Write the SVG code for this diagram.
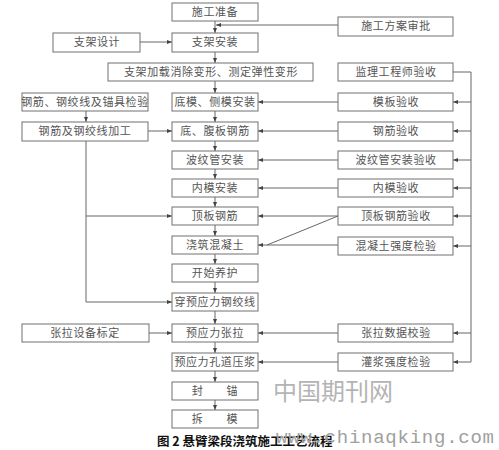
<svg xmlns="http://www.w3.org/2000/svg" width="499" height="450" viewBox="0 0 499 450">
<style>
.b{fill:#fff;stroke:#707070;stroke-width:1}
.t{font-family:"Noto Sans CJK SC","Noto Sans",sans-serif;font-size:11px;fill:#555;text-anchor:middle;letter-spacing:0.6px}
.c{fill:none;stroke:#666;stroke-width:1}
.a{marker-end:url(#ar)}
</style>
<defs>
<marker id="ar" markerWidth="5" markerHeight="4" refX="5" refY="2" orient="auto" markerUnits="userSpaceOnUse">
<path d="M0,0 L5,2 L0,4 z" fill="#444"/>
</marker>
</defs>
<rect width="499" height="450" fill="#fff"/>
<g id="connectors">
<line class="c a" x1="215" y1="21" x2="215" y2="33"/>
<line class="c a" x1="338" y1="25" x2="216" y2="25"/>
<line class="c a" x1="140" y1="42" x2="172" y2="42"/>
<line class="c a" x1="215" y1="52" x2="215" y2="63"/>
<line class="c a" x1="215" y1="81" x2="215" y2="93"/>
<line class="c a" x1="215" y1="111" x2="215" y2="122"/>
<line class="c a" x1="215" y1="141" x2="215" y2="151"/>
<line class="c a" x1="215" y1="169" x2="215" y2="179"/>
<line class="c a" x1="215" y1="197" x2="215" y2="207"/>
<line class="c a" x1="215" y1="225" x2="215" y2="236"/>
<line class="c a" x1="215" y1="254" x2="215" y2="264"/>
<line class="c a" x1="215" y1="282" x2="215" y2="293"/>
<line class="c a" x1="215" y1="311" x2="215" y2="324"/>
<line class="c a" x1="215" y1="342" x2="215" y2="353"/>
<line class="c a" x1="215" y1="371" x2="215" y2="382"/>
<line class="c a" x1="215" y1="400" x2="215" y2="410"/>
<line class="c a" x1="86" y1="111" x2="86" y2="122"/>
<line class="c a" x1="148" y1="131" x2="172" y2="131"/>
<polyline class="c a" points="86,141 86,302 172,302"/>
<line class="c a" x1="86" y1="216" x2="172" y2="216"/>
<line class="c a" x1="149" y1="333" x2="172" y2="333"/>
<polyline class="c" points="453,72 471,72 471,362"/>
<line class="c a" x1="471" y1="102" x2="453" y2="102"/>
<line class="c a" x1="471" y1="131" x2="453" y2="131"/>
<line class="c a" x1="471" y1="160" x2="453" y2="160"/>
<line class="c a" x1="471" y1="188" x2="453" y2="188"/>
<line class="c a" x1="471" y1="216" x2="453" y2="216"/>
<line class="c a" x1="471" y1="246" x2="453" y2="246"/>
<line class="c a" x1="471" y1="333" x2="453" y2="333"/>
<line class="c a" x1="471" y1="362" x2="453" y2="362"/>
<line class="c a" x1="338" y1="102" x2="258" y2="102"/>
<line class="c a" x1="338" y1="131" x2="258" y2="131"/>
<line class="c a" x1="338" y1="160" x2="258" y2="160"/>
<line class="c a" x1="338" y1="188" x2="258" y2="188"/>
<line class="c a" x1="338" y1="216" x2="258" y2="216"/>
<line class="c a" x1="338" y1="245" x2="258" y2="245"/>
<line class="c" x1="338" y1="216" x2="267" y2="245"/>
<line class="c a" x1="338" y1="333" x2="258" y2="333"/>
<line class="c a" x1="338" y1="362" x2="258" y2="362"/>
</g>
<g id="n1"><rect class="b" x="172" y="3" width="86" height="18"/><text class="t" x="215" y="16">施工准备</text></g>
<g id="n2"><rect class="b" x="172" y="33" width="86" height="19"/><text class="t" x="215" y="46">支架安装</text></g>
<g id="n3"><rect class="b" x="108" y="63" width="205" height="18"/><text class="t" x="211" y="76">支架加载消除变形、测定弹性变形</text></g>
<g id="n4"><rect class="b" x="172" y="93" width="86" height="18"/><text class="t" x="215" y="106">底模、侧模安装</text></g>
<g id="n5"><rect class="b" x="172" y="122" width="86" height="19"/><text class="t" x="215" y="135">底、腹板钢筋</text></g>
<g id="n6"><rect class="b" x="172" y="151" width="86" height="18"/><text class="t" x="215" y="164">波纹管安装</text></g>
<g id="n7"><rect class="b" x="172" y="179" width="86" height="18"/><text class="t" x="215" y="192">内模安装</text></g>
<g id="n8"><rect class="b" x="172" y="207" width="86" height="18"/><text class="t" x="215" y="220">顶板钢筋</text></g>
<g id="n9"><rect class="b" x="172" y="236" width="86" height="18"/><text class="t" x="215" y="249">浇筑混凝土</text></g>
<g id="n10"><rect class="b" x="172" y="264" width="86" height="18"/><text class="t" x="215" y="277">开始养护</text></g>
<g id="n11"><rect class="b" x="172" y="293" width="86" height="18"/><text class="t" x="215" y="306">穿预应力钢绞线</text></g>
<g id="n12"><rect class="b" x="172" y="324" width="86" height="18"/><text class="t" x="215" y="337">预应力张拉</text></g>
<g id="n13"><rect class="b" x="172" y="353" width="86" height="18"/><text class="t" x="215" y="366">预应力孔道压浆</text></g>
<g id="n14"><rect class="b" x="172" y="382" width="86" height="18"/><text class="t" x="215" y="395">封　　锚</text></g>
<g id="n15"><rect class="b" x="172" y="410" width="86" height="18"/><text class="t" x="215" y="423">拆　　模</text></g>
<g id="l1"><rect class="b" x="53" y="33" width="87" height="19"/><text class="t" x="97" y="46">支架设计</text></g>
<g id="l2"><rect class="b" x="22" y="93" width="126" height="18"/><text class="t" x="85" y="106">钢筋、钢绞线及锚具检验</text></g>
<g id="l3"><rect class="b" x="22" y="122" width="126" height="19"/><text class="t" x="85" y="135">钢筋及钢绞线加工</text></g>
<g id="l4"><rect class="b" x="22" y="324" width="127" height="18"/><text class="t" x="85" y="337">张拉设备标定</text></g>
<g id="r0"><rect class="b" x="338" y="17" width="115" height="19"/><text class="t" x="396" y="30">施工方案审批</text></g>
<g id="r1"><rect class="b" x="338" y="63" width="115" height="18"/><text class="t" x="396" y="76">监理工程师验收</text></g>
<g id="r2"><rect class="b" x="338" y="93" width="115" height="18"/><text class="t" x="396" y="106">模板验收</text></g>
<g id="r3"><rect class="b" x="338" y="122" width="115" height="19"/><text class="t" x="396" y="135">钢筋验收</text></g>
<g id="r4"><rect class="b" x="338" y="151" width="115" height="18"/><text class="t" x="396" y="164">波纹管安装验收</text></g>
<g id="r5"><rect class="b" x="338" y="179" width="115" height="18"/><text class="t" x="396" y="192">内模验收</text></g>
<g id="r6"><rect class="b" x="338" y="207" width="115" height="18"/><text class="t" x="396" y="220">顶板钢筋验收</text></g>
<g id="r7"><rect class="b" x="338" y="237" width="115" height="18"/><text class="t" x="396" y="250">混凝土强度检验</text></g>
<g id="r8"><rect class="b" x="338" y="324" width="115" height="18"/><text class="t" x="396" y="337">张拉数据校验</text></g>
<g id="r9"><rect class="b" x="338" y="353" width="115" height="18"/><text class="t" x="396" y="366">灌浆强度检验</text></g>
<text x="273" y="400" font-family="Noto Sans CJK SC, sans-serif" font-size="24" fill="#b4b4b4">中国期刊网</text>
<text x="157" y="446" font-family="Noto Sans CJK SC, sans-serif" font-size="12.5" fill="#111" font-weight="bold">图 2 悬臂梁段浇筑施工工艺流程</text>
<text x="276" y="443" font-family="Liberation Mono, monospace" font-size="19" fill="#a0a0a0" textLength="218" lengthAdjust="spacing">www.chinaqking.com</text>
</svg>
